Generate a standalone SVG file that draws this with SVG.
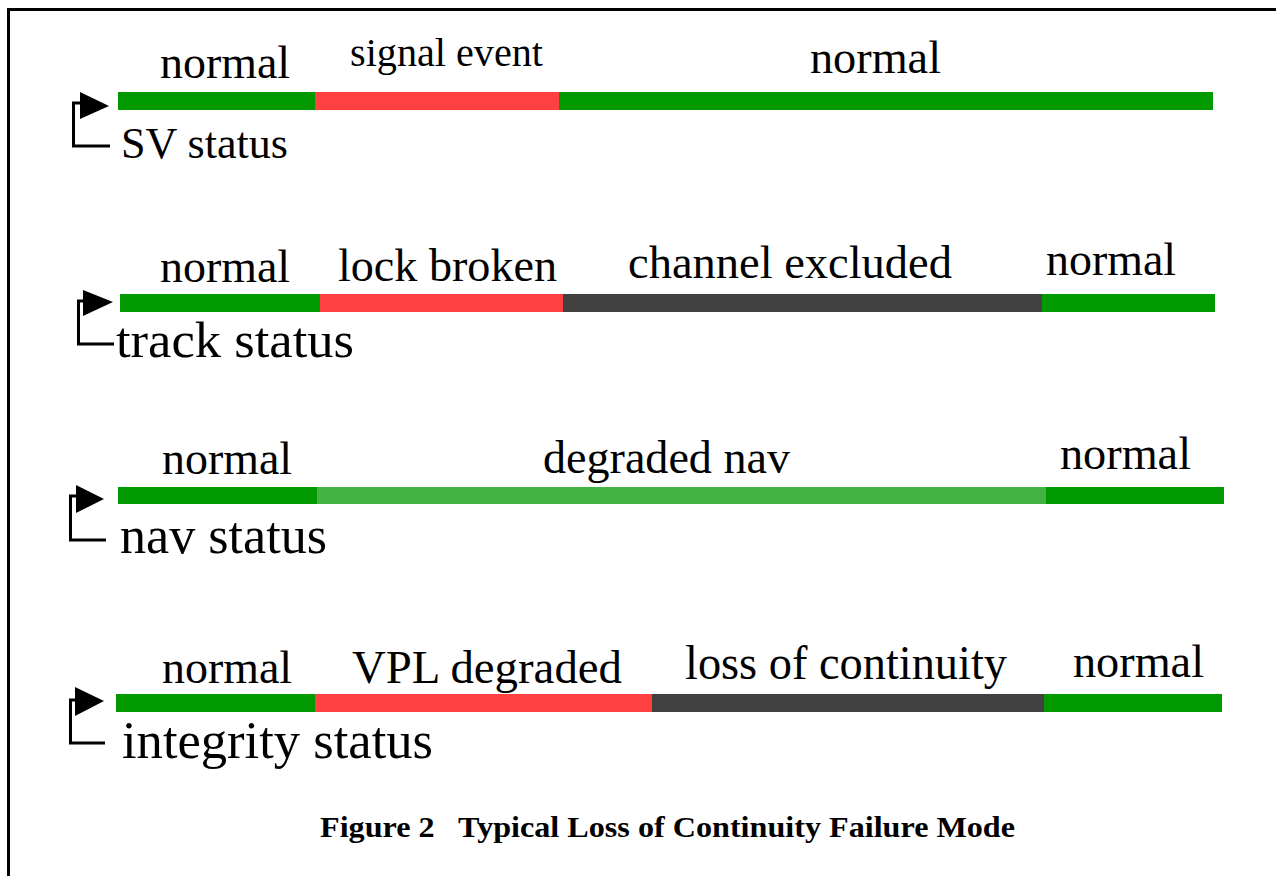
<svg xmlns="http://www.w3.org/2000/svg" width="1276" height="876" viewBox="0 0 1276 876" font-family="'Times New Roman', 'Liberation Serif', Times, serif">
<style>
text{font-family:"Times New Roman","Liberation Serif",Times,serif;fill:#000}
.lbl{font-size:46px}
.side{font-size:52px}
.cap{font-size:29px;font-weight:bold}
.g{fill:#009900}.r{fill:#FF4040}.d{fill:#404040}.lg{fill:#43B343}
.pole{fill:none;stroke:#000;stroke-width:3}
.flag{fill:#000}
</style>
<rect x="8.5" y="9.5" width="1300" height="900" fill="#fff" stroke="#000" stroke-width="3"/>
<g id="connectors">
<path class="pole" d="M72 103H81M73.5 103V146H110"/>
<path class="pole" d="M77 301H84M78.5 301V344H114"/>
<path class="pole" d="M69 496H77M70.5 496V540H106"/>
<path class="pole" d="M69 700H77M70.5 700V743H105"/>
</g>
<g id="sv-status">
<polygon class="flag" points="80,92 109,106 80,119"/>
<rect class="g" x="118" y="92" width="197" height="18"/>
<rect class="r" x="315" y="92" width="244" height="18"/>
<rect class="g" x="559" y="92" width="654" height="18"/>
<text class="lbl" x="160" y="78" textLength="130" lengthAdjust="spacingAndGlyphs">normal</text>
<text x="350" y="66" font-size="40" textLength="193" lengthAdjust="spacingAndGlyphs">signal event</text>
<text class="lbl" x="810" y="73" textLength="131" lengthAdjust="spacingAndGlyphs">normal</text>
<text x="121" y="158" font-size="44" textLength="167" lengthAdjust="spacingAndGlyphs">SV status</text>
</g>
<g id="track-status">
<polygon class="flag" points="83,290 113,302 83,316"/>
<rect class="g" x="120" y="294" width="200" height="18"/>
<rect class="r" x="320" y="294" width="243" height="18"/>
<rect class="d" x="563" y="294" width="479" height="18"/>
<rect class="g" x="1042" y="294" width="173" height="18"/>
<text class="lbl" x="160" y="282" textLength="130" lengthAdjust="spacingAndGlyphs">normal</text>
<text class="lbl" x="338" y="281" textLength="219" lengthAdjust="spacingAndGlyphs">lock broken</text>
<text class="lbl" x="628" y="278" textLength="324" lengthAdjust="spacingAndGlyphs">channel excluded</text>
<text class="lbl" x="1046" y="275" textLength="130" lengthAdjust="spacingAndGlyphs">normal</text>
<text x="116" y="357" font-size="50" textLength="238" lengthAdjust="spacingAndGlyphs">track status</text>
</g>
<g id="nav-status">
<polygon class="flag" points="76,485 104,499 76,513"/>
<rect class="g" x="118" y="487" width="199" height="17"/>
<rect class="lg" x="317" y="487" width="729" height="17"/>
<rect class="g" x="1046" y="487" width="178" height="17"/>
<text class="lbl" x="162" y="474" textLength="130" lengthAdjust="spacingAndGlyphs">normal</text>
<text class="lbl" x="543" y="473" textLength="247" lengthAdjust="spacingAndGlyphs">degraded nav</text>
<text class="lbl" x="1060" y="469" textLength="131" lengthAdjust="spacingAndGlyphs">normal</text>
<text class="side" x="120" y="553" textLength="207" lengthAdjust="spacingAndGlyphs">nav status</text>
</g>
<g id="integrity-status">
<polygon class="flag" points="75,687 104,701 75,716"/>
<rect class="g" x="116" y="694" width="199" height="18"/>
<rect class="r" x="315" y="694" width="337" height="18"/>
<rect class="d" x="652" y="694" width="392" height="18"/>
<rect class="g" x="1044" y="694" width="178" height="18"/>
<text class="lbl" x="162" y="683" textLength="130" lengthAdjust="spacingAndGlyphs">normal</text>
<text class="lbl" x="352" y="683" textLength="270" lengthAdjust="spacingAndGlyphs">VPL degraded</text>
<text x="685" y="679" font-size="48" textLength="322" lengthAdjust="spacingAndGlyphs">loss of continuity</text>
<text class="lbl" x="1073" y="677" textLength="131" lengthAdjust="spacingAndGlyphs">normal</text>
<text class="side" x="122" y="758" textLength="311" lengthAdjust="spacingAndGlyphs">integrity status</text>
</g>
<g id="caption">
<text class="cap" x="320" y="837" textLength="695" lengthAdjust="spacingAndGlyphs" xml:space="preserve">Figure 2   Typical Loss of Continuity Failure Mode</text>
</g>
</svg>
